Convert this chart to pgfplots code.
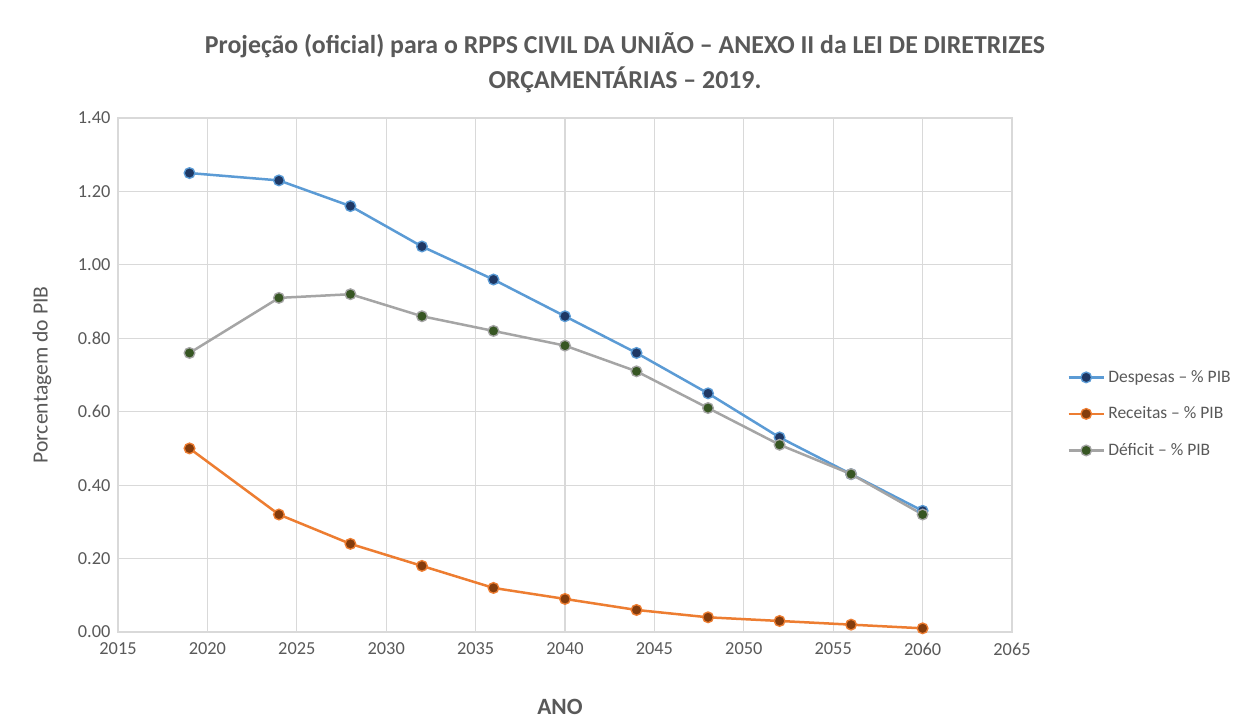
\documentclass[border=0pt]{standalone}
\usepackage{pgfplots}
\pgfplotsset{compat=1.18}
\usepackage{fontspec}
\setmainfont{Carlito}
\definecolor{txt}{HTML}{595959}
\definecolor{gridc}{HTML}{D9D9D9}
\definecolor{blueL}{HTML}{5B9BD5}
\definecolor{blueM}{HTML}{1F3864}
\definecolor{orangeL}{HTML}{ED7D31}
\definecolor{orangeM}{HTML}{843C0C}
\definecolor{grayL}{HTML}{A5A5A5}
\definecolor{greenM}{HTML}{375623}
\begin{document}
\begin{tikzpicture}
\useasboundingbox[fill=white] (0pt,0pt) rectangle (739.8pt,435.6pt);
\node[font=\fontsize{15.5}{17}\selectfont\bfseries, text=txt] at (375pt,408.6pt) {Projeção (oficial) para o RPPS CIVIL DA UNIÃO – ANEXO II da LEI DE DIRETRIZES};
\node[font=\fontsize{15.5}{17}\selectfont\bfseries, text=txt] at (375pt,387.6pt) {ORÇAMENTÁRIAS – 2019.};
\node[font=\fontsize{13}{15}\selectfont, text=txt, rotate=90] at (25.2pt,210.6pt) {Porcentagem do PIB};
\node[font=\fontsize{14}{16}\selectfont\bfseries, text=txt] at (336pt,11.4pt) {ANO};
\begin{axis}[
  at={(70.8pt,56.4pt)}, anchor=south west,
  scale only axis, width=536.4pt, height=308.4pt,
  xmin=2015, xmax=2065, ymin=0, ymax=1.4,
  xtick distance=5, ytick distance=0.2,
  grid=major, grid style={gridc, line width=0.7pt},
  axis line style={gridc, line width=0.8pt},
  major tick length=0pt,
  tick label style={font=\fontsize{11}{13}\selectfont, text=txt},
  /pgf/number format/assume math mode=true,
  xticklabel style={/pgf/number format/1000 sep={}, yshift=-3pt},
  yticklabel style={/pgf/number format/fixed, /pgf/number format/fixed zerofill, /pgf/number format/precision=2, xshift=-1pt},
  legend style={draw=none, fill=none, at={(1.056,0.523)}, anchor=north west,
    font=\fontsize{10.5}{12}\selectfont, text=txt, row sep=9.2pt},
  legend cell align=left,
  legend image code/.code={\draw[#1] (0cm,0cm) -- (0.74cm,0cm); \draw[#1,mark repeat=1] plot coordinates {(0.37cm,0cm)};},
  every axis plot/.append style={line width=1.5pt, mark=*, mark size=3.2pt},
]
\addplot[blueL, mark options={fill=blueM, draw=blueL, line width=0.8pt}] coordinates {
(2019,1.25)(2024,1.23)(2028,1.16)(2032,1.05)(2036,0.96)(2040,0.86)(2044,0.76)(2048,0.65)(2052,0.53)(2056,0.43)(2060,0.33)};
\addlegendentry{Despesas – \% PIB}
\addplot[orangeL, mark options={fill=orangeM, draw=orangeL, line width=0.8pt}] coordinates {
(2019,0.50)(2024,0.32)(2028,0.24)(2032,0.18)(2036,0.12)(2040,0.09)(2044,0.06)(2048,0.04)(2052,0.03)(2056,0.02)(2060,0.01)};
\addlegendentry{Receitas – \% PIB}
\addplot[grayL, mark options={fill=greenM, draw=grayL, line width=0.8pt}] coordinates {
(2019,0.76)(2024,0.91)(2028,0.92)(2032,0.86)(2036,0.82)(2040,0.78)(2044,0.71)(2048,0.61)(2052,0.51)(2056,0.43)(2060,0.32)};
\addlegendentry{Déficit – \% PIB}
\end{axis}
\end{tikzpicture}
\end{document}
